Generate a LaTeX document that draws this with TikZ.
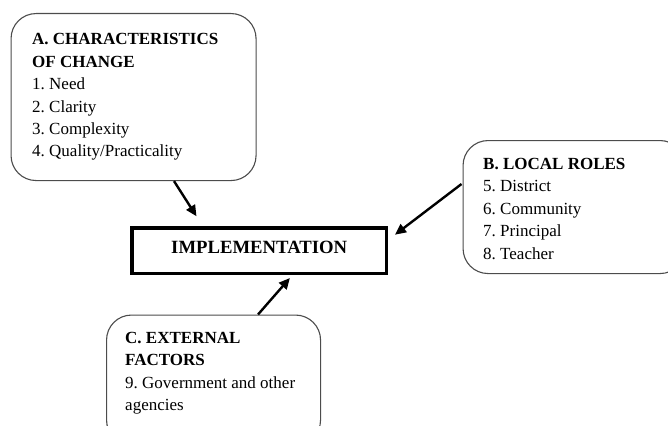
\documentclass[tikz,border=0pt]{standalone}
\usepackage{fontspec}
\setmainfont{Liberation Serif}
\usetikzlibrary{arrows.meta}
\frenchspacing
\begin{document}
\begin{tikzpicture}[x=1pt,y=-1pt,
  card/.style={draw=black!70, line width=1.1pt, rounded corners=25pt,
    anchor=north west, inner sep=0pt},
  listtext/.style={anchor=base west, inner sep=0pt,
    font=\fontsize{17}{22.4}\selectfont},
  core/.style={draw=black, line width=3.5pt, inner sep=0pt, text depth=7pt,
    font=\fontsize{18.7}{22}\selectfont\bfseries},
  link/.style={line width=2.4pt, -{Triangle[length=11pt,width=10pt]}}]
\useasboundingbox (0,0) rectangle (668,425);

% factor groups
\node[card, minimum width=245pt, minimum height=167pt] (A) at (10.5,13) {};
\node[listtext] (Atext) at (32,45) {\parbox[t]{220pt}{%
  \textbf{A. CHARACTERISTICS}\\\textbf{OF CHANGE}\\1. Need\\2. Clarity\\
  3. Complexity\\4. Quality/Practicality}};

\node[card, minimum width=222pt, minimum height=133pt] (B) at (462.5,140) {};
\node[listtext] (Btext) at (483,169.5) {\parbox[t]{180pt}{%
  \textbf{B. LOCAL ROLES}\\5. District\\6. Community\\7. Principal\\8. Teacher}};

\node[card, minimum width=214pt, minimum height=130pt] (C) at (106,314.5) {};
\node[listtext] (Ctext) at (125,343.3) {\parbox[t]{190pt}{%
  \textbf{C. EXTERNAL}\\\textbf{FACTORS}\\9. Government and other\\agencies}};

% central box
\node[core, minimum width=254.5pt, minimum height=45.5pt] (impl) at (259.2,250.5)
  {IMPLEMENTATION};

% influences
\draw[link] ([xshift=163.5pt]A.south west) -- ([shift={(66.3,-9.7)}]impl.north west);
\draw[link] ([shift={(-1,44)}]B.north west) -- ([shift={(6.8,8.7)}]impl.north east);
\draw[link] ([xshift=152pt]C.north west) -- ([shift={(159.7,3)}]impl.south west);
\end{tikzpicture}
\end{document}
